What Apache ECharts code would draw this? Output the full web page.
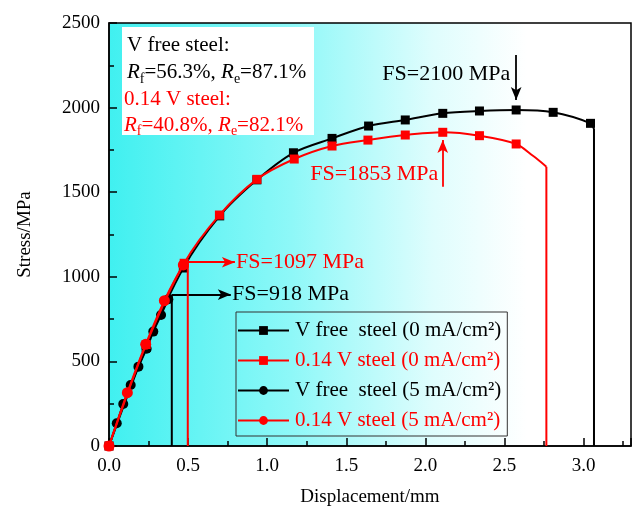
<!DOCTYPE html>
<html>
<head>
<meta charset="utf-8">
<script src="https://cdn.jsdelivr.net/npm/echarts@6/dist/echarts.min.js"></script>
<style>html,body{margin:0;padding:0;background:#fff;}#c{width:633px;height:507px;}</style>
</head>
<body>
<div id="c"></div>
<script>
// ---- data ----
var seriesNames = ['V free  steel (0 mA/cm²)', '0.14 V steel (0 mA/cm²)', 'V free  steel (5 mA/cm²)', '0.14 V steel (5 mA/cm²)'];

var blackSqX = [0, 0.235, 0.47, 0.70, 0.935, 1.166, 1.41, 1.641, 1.873, 2.11, 2.342, 2.574, 2.808, 3.044];
var blackSqY = [0, 582, 1052, 1360, 1573, 1733, 1818, 1891, 1927, 1966, 1980, 1986, 1972, 1907];
var blackSqTailX = [3.066, 3.066];
var blackSqTailY = [1873, 0];

var redSqX = [0, 0.235, 0.475, 0.698, 0.935, 1.171, 1.41, 1.637, 1.873, 2.11, 2.342, 2.574];
var redSqY = [0, 600, 1080, 1365, 1576, 1696, 1773, 1808, 1838, 1854, 1834, 1785];
var redSqTailX = [2.68, 2.765, 2.765];
var redSqTailY = [1715, 1651, 0];

var blackCircX = [0, 0.049, 0.09, 0.137, 0.186, 0.238, 0.28, 0.329, 0.375];
var blackCircY = [0, 134, 248, 360, 469, 575, 676, 774, 867];
var blackCircTailX = [0.397, 0.397];
var blackCircTailY = [893, 0];

var redCircX = [0, 0.116, 0.232, 0.35, 0.47];
var redCircY = [0, 315, 601, 859, 1070];
var redCircTailX = [0.498, 0.498];
var redCircTailY = [1086, 0];

var xTicks = [0, 0.5, 1.0, 1.5, 2.0, 2.5, 3.0];
var yTicks = [0, 500, 1000, 1500, 2000, 2500];

// annotations (data coordinates)
var fsLabels = ['FS=2100 MPa', 'FS=1853 MPa', 'FS=1097 MPa', 'FS=918 MPa'];
var arrow2100 = [[2.574, 2311], [2.574, 2045]];
var arrow1853 = [[2.11, 1532], [2.11, 1808]];
var arrow1097 = [[0.498, 1086], [0.796, 1086]];
var arrow918 = [[0.397, 895], [0.770, 895]];
var text2100 = [2.54, 2195];
var text1853 = [2.085, 1608];
var text1097 = [0.80, 1086];
var text918 = [0.775, 895];

// ---- build ----
var FONT = '"Liberation Serif", "Times New Roman", serif';
function pts(xs, ys) { return xs.map(function (x, i) { return [x, ys[i]]; }); }
function withTail(xs, ys, tx, ty) {
  var d = pts(xs, ys);
  d.push({ value: [tx[0], ty[0]], symbol: 'none' });
  return d;
}
function dropData(tx, ty) {
  var n = tx.length;
  return [[tx[n - 2], ty[n - 2]], [tx[n - 1], ty[n - 1]]];
}

var BLACK = '#000000', RED = '#ff0000';

function mainSeries(name, color, symbol, size, data, z) {
  return {
    name: name, type: 'line', data: data, smooth: 0.3, z: z,
    symbol: symbol, symbolSize: size, showSymbol: true,
    lineStyle: { color: color, width: 2 }, itemStyle: { color: color },
    emphasis: { disabled: true }, animation: false
  };
}
function dropSeries(color, data, z) {
  return {
    type: 'line', data: data, z: z, symbol: 'none', smooth: false,
    lineStyle: { color: color, width: 2 }, itemStyle: { color: color },
    emphasis: { disabled: true }, animation: false, silent: true
  };
}

var redSqData = pts(redSqX, redSqY);
for (var i = 0; i < redSqTailX.length - 1; i++) redSqData.push({ value: [redSqTailX[i], redSqTailY[i]], symbol: 'none' });

function arrowLine(seg) {
  return [{ coord: seg[0], symbol: 'none' }, { coord: seg[1], symbol: 'arrow', symbolSize: [8, 13] }];
}

var ANNO_SIZE = 22;
var annoSeries = {
  type: 'line', data: [], silent: true, z: 6, animation: false,
  markLine: {
    silent: true, animation: false, symbol: ['none', 'arrow'], symbolSize: [8, 13],
    label: { show: false },
    data: [arrowLine(arrow2100), arrowLine(arrow1853), arrowLine(arrow1097), arrowLine(arrow918)].map(function (seg, i) {
      var c = (i === 0 || i === 3) ? BLACK : RED;
      seg[0].lineStyle = { color: c, width: 1.8, type: 'solid' };
      seg[0].itemStyle = { color: c };
      seg[1].itemStyle = { color: c };
      return seg;
    })
  },
  markPoint: {
    silent: true, animation: false, symbol: 'circle', symbolSize: 1,
    itemStyle: { color: 'rgba(0,0,0,0)' },
    data: [
      { coord: text2100, label: { show: true, position: 'left', distance: 0, formatter: fsLabels[0], color: BLACK, fontFamily: FONT, fontSize: ANNO_SIZE } },
      { coord: text1853, label: { show: true, position: 'left', distance: 0, formatter: fsLabels[1], color: RED, fontFamily: FONT, fontSize: ANNO_SIZE } },
      { coord: text1097, label: { show: true, position: 'right', distance: 0, formatter: fsLabels[2], color: RED, fontFamily: FONT, fontSize: ANNO_SIZE } },
      { coord: text918, label: { show: true, position: 'right', distance: 0, formatter: fsLabels[3], color: BLACK, fontFamily: FONT, fontSize: ANNO_SIZE } }
    ]
  }
};

var chart = echarts.init(document.getElementById('c'), null, { renderer: 'canvas' });
var option = {
  animation: false,
  backgroundColor: '#ffffff',
  textStyle: { fontFamily: FONT },
  grid: {
    left: 109, right: 2, top: 23, bottom: 61, show: true,
    containLabel: false, outerBoundsMode: 'none',
    borderColor: '#000', borderWidth: 1.5,
    backgroundColor: new echarts.graphic.LinearGradient(0, 0, 1, 0, [
      { offset: 0, color: '#40f0f0' },
      { offset: 0.35, color: '#8ef8f8' },
      { offset: 0.62, color: '#dffdfd' },
      { offset: 0.8, color: '#ffffff' },
      { offset: 1, color: '#ffffff' }
    ])
  },
  xAxis: [{
    type: 'value', min: 0, max: 3.3, interval: 0.5,
    name: 'Displacement/mm', nameLocation: 'middle', nameGap: 42,
    nameTextStyle: { fontFamily: FONT, fontSize: 19, color: '#000' },
    axisLine: { show: true, lineStyle: { color: '#000', width: 1.5 } },
    axisTick: { show: true, inside: true, length: 8, lineStyle: { color: '#000', width: 1.5 } },
    splitLine: { show: false },
    axisLabel: {
      fontFamily: FONT, fontSize: 19, color: '#000', margin: 11,
      formatter: function (v) {
        for (var k = 0; k < xTicks.length; k++) if (Math.abs(xTicks[k] - v) < 1e-6) return xTicks[k].toFixed(1);
        return '';
      }
    }
  }, {
    type: 'value', min: 0, max: 3.3, interval: 0.25, position: 'bottom', gridIndex: 0,
    axisLine: { show: false },
    axisTick: { show: true, inside: true, length: 5, lineStyle: { color: '#000', width: 1.5 } },
    axisLabel: { show: false }, splitLine: { show: false }
  }],
  yAxis: {
    type: 'value', min: 0, max: 2500, interval: 500,
    name: 'Stress/MPa', nameLocation: 'middle', nameGap: 74, nameRotate: 90,
    nameTextStyle: { fontFamily: FONT, fontSize: 19, color: '#000' },
    axisLine: { show: true, lineStyle: { color: '#000', width: 1.5 } },
    axisTick: { show: true, inside: true, length: 8, lineStyle: { color: '#000', width: 1.5 } },
    minorTick: { show: true, splitNumber: 2, length: 5, lineStyle: { color: '#000', width: 1.5 } },
    splitLine: { show: false },
    axisLabel: {
      fontFamily: FONT, fontSize: 19, color: '#000', margin: 9,
      formatter: function (v) { return yTicks.indexOf(v) >= 0 ? String(v) : ''; }
    }
  },
  legend: {
    orient: 'vertical', left: 236, top: 312,
    padding: [8, 6, 5, 1], itemGap: 9, itemWidth: 51, itemHeight: 11,
    borderColor: '#333', borderWidth: 1, backgroundColor: 'rgba(0,0,0,0)',
    textStyle: { fontFamily: FONT, fontSize: 21, padding: [0, 0, 0, 1] },
    data: [
      { name: seriesNames[0], textStyle: { color: BLACK } },
      { name: seriesNames[1], textStyle: { color: RED } },
      { name: seriesNames[2], textStyle: { color: BLACK } },
      { name: seriesNames[3], textStyle: { color: RED } }
    ],
    selectedMode: false
  },
  graphic: [{
    type: 'rect', left: 122, top: 27, z: 100,
    shape: { width: 192, height: 108 },
    style: { fill: '#ffffff' }
  }, {
    type: 'text', left: 127, top: 32, z: 101,
    style: {
      text: 'V free steel:\n{i|R}{s|f}=56.3%, {i|R}{s|e}=87.1%',
      fill: BLACK, font: '21px ' + FONT, lineHeight: 27,
      rich: {
        i: { fontFamily: FONT, fontSize: 21, fontStyle: 'italic', fill: BLACK, lineHeight: 27 },
        s: { fontFamily: FONT, fontSize: 14, fill: BLACK, lineHeight: 27, verticalAlign: 'bottom' }
      }
    }
  }, {
    type: 'text', left: 124, top: 86, z: 101,
    style: {
      text: '0.14 V steel:\n{i|R}{s|f}=40.8%, {i|R}{s|e}=82.1%',
      fill: RED, font: '21px ' + FONT, lineHeight: 26,
      rich: {
        i: { fontFamily: FONT, fontSize: 21, fontStyle: 'italic', fill: RED, lineHeight: 26 },
        s: { fontFamily: FONT, fontSize: 14, fill: RED, lineHeight: 26, verticalAlign: 'bottom' }
      }
    }
  }],
  series: [
    mainSeries(seriesNames[0], BLACK, 'rect', 9, withTail(blackSqX, blackSqY, blackSqTailX, blackSqTailY), 2),
    dropSeries(BLACK, dropData(blackSqTailX, blackSqTailY), 2),
    mainSeries(seriesNames[1], RED, 'rect', 9, redSqData, 4),
    dropSeries(RED, dropData(redSqTailX, redSqTailY), 4),
    mainSeries(seriesNames[2], BLACK, 'circle', 10, withTail(blackCircX, blackCircY, blackCircTailX, blackCircTailY), 3),
    dropSeries(BLACK, dropData(blackCircTailX, blackCircTailY), 3),
    mainSeries(seriesNames[3], RED, 'circle', 11, withTail(redCircX, redCircY, redCircTailX, redCircTailY), 5),
    dropSeries(RED, dropData(redCircTailX, redCircTailY), 5),
    annoSeries
  ]
};
chart.setOption(option);
</script>
</body>
</html>
